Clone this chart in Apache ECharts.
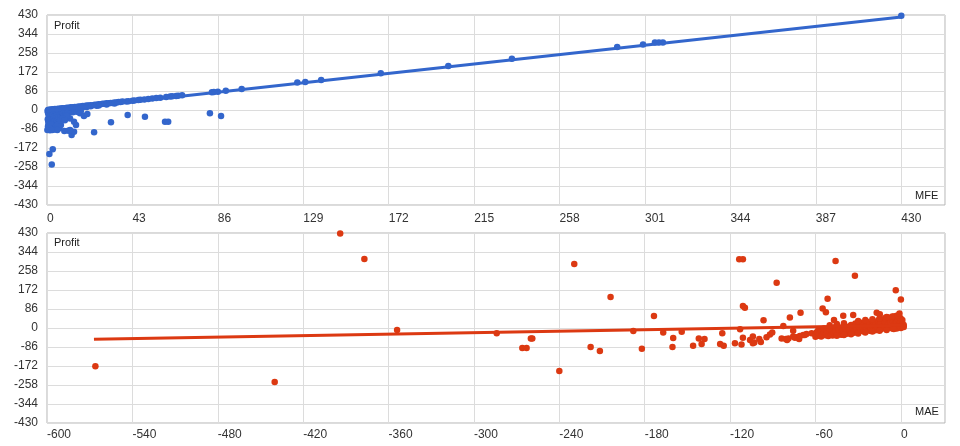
<!DOCTYPE html>
<html>
<head>
<meta charset="utf-8">
<title>MFE / MAE vs Profit</title>
<script src="https://cdn.jsdelivr.net/npm/echarts@6/dist/echarts.min.js"></script>
<style>
  html, body { margin: 0; padding: 0; background: #fff; }
  #chart { width: 960px; height: 446px; }
</style>
</head>
<body>
<div id="chart"></div>
<script>
// top chart: [MFE, Profit]
var mfeScatter = [
  [0.5,0],[1,1],[1.5,0],[2,2],[2.5,1],[3,3],[3.5,2],[4,4],[4.5,3],[5,5],[5.5,4],[6,6],[6.5,5],[7,7],[7.5,6],
  [8,8],[9,8],[10,10],[11,10],[12,12],[13,12],[14,14],[15,14],[16,16],[17,16],[18,18],[19,18],[20,20],
  [21,20],[22,22],[23,22],[24,24],[25,24],[26,26],[27,26],[28,28],[29,28],[30,30],[31,30],[32,32],[33,32],
  [34,34],[35,34],[36,36],[37,36],[38,38],[40,39],[41,40],[43,42],[44,43],[46,45],[47,46],[49,48],[51,50],
  [53,52],[55,54],[57,56],[60,59],[62,61],[63,62],[65,63],[66,65],[68,67],[83,80],[84,82],[86,83],[90,87],
  [98,95],[126,124],[130,127],[138,136],[168,166],[202,199],[234,232],[287,285],[300,297],[306,305],
  [308,306],[310,306],[430,427],
  [3,-1],[5,2],[8,4],[10,6],[12,8],[15,10],[18,13],[20,14],[22,17],[25,19],[26,20],[30,25],[34,29],
  [0.3,-5],[0.5,-12],[0.8,-20],[1,-28],[1.2,-35],[0.4,-42],[0.6,-50],[1,-58],[0.7,-66],[1.3,-72],[0.9,-80],
  [1.5,-3],[2,-10],[2.2,-18],[1.8,-25],[2.5,-32],[2.1,-40],[2.6,-47],[1.9,-55],[2.4,-62],[2.8,-70],
  [3.2,-5],[3.5,-15],[3,-22],[3.8,-30],[3.3,-38],[4,-45],[3.6,-54],[4.2,-60],[3.1,-78],[4.5,-8],[5,-17],
  [4.8,-26],[5.3,-35],[5.6,-42],[5,-50],[5.8,-58],[6,-2],[6.4,-12],[6.8,-22],[7,-33],[7.5,-7],[8,-16],
  [8.5,-28],[9,-4],[9.5,-12],[10,-20],[10.5,-8],[11,-14],[12,-6],[12.5,-2],[13,-10],[14,-4],[15,-8],
  [16,-3],[17,-6],[2,-85],[4,-88],[1.5,-92],[6.2,-83],[7,-68],[8.7,-95],[10.7,-94],[12.4,-113],[13.6,-98],
  [11.6,-91],[13.6,-53],[14.6,-68],[11.6,-38],[9.9,-27],[16.6,-15],[18.6,-27],[20.3,-18],[23.7,-101],
  [32.2,-56],[40.6,-23],[49.3,-30],[59.4,-53],[61,-53],[82,-15],[87.6,-27],[1.2,-199],[2.9,-178],
  [2.4,-247],[1.5,-83],[0.2,-90],
  [0.5,-75],[1.8,-64],[3.4,-84],[4.6,-72],[5.5,-66],[6.6,-48],[7.8,-40],[9,-46],[2.7,-90],[5.2,-90]
];

// bottom chart: [MAE, Profit]
var maeScatter = [
  [-566,-173],[-440,-244],[-394,428],[-377,312],[-354,-9],
  [-284,-24],[-266,-90],[-263,-90],[-260,-48],[-259,-48],[-240,-195],[-229.5,290],[-218,-86],
  [-211.5,-104],[-204,140],[-188,-14],[-182,-94],[-173.5,54],[-167,-20],[-160,-45],[-160.5,-86],
  [-154,-17],[-146,-80],[-142,-48],[-140,-72],[-138,-50],[-127,-72],[-125.5,-24],[-124.5,-80],
  [-116.6,-69],[-113.6,311],[-111,311],[-113,-6],[-112,-75],[-111,-44],[-111,100],[-109.6,92],
  [-106,-54],[-104,-39],[-104,-69],[-103,-66],[-99.5,-50],[-98.4,-63],[-96.5,35],[-94.4,-42],[-92,-29],
  [-90.4,-20],[-87.3,205],[-83.8,-47],[-82.6,9],[-80.8,-50],[-79,-48],[-78,48],[-75.7,-12],[-74.5,-44],
  [-73.3,-42],[-71.5,-50],[-70.5,69],[-68.6,-32],[-66.3,-27],[-80,-54],[-75.7,-39],[-71,-36],
  [-67.5,-32],[-62.7,-24],[-59,-21],
  [-60,-40],[-60,-30],[-59,-18],[-58,-35],[-58,-8],[-57,-25],[-56,-38],[-56,-14],[-55,-30],[-54,-20],
  [-54,-2],[-53,-33],[-52,-12],[-52,-26],[-51,-36],[-50,-18],[-50,-5],[-49,-28],[-48,-10],[-48,-34],
  [-47,-22],[-46,4],[-46,-15],[-45,-30],[-44,-8],[-44,-25],[-43,-18],[-42,2],[-42,-30],[-41,-12],
  [-40,-22],[-40,10],[-39,-4],[-38,-26],[-38,-14],[-37,6],[-36,-20],[-36,-8],[-35,14],[-35,-24],[-34,0],
  [-33,-14],[-33,-22],[-32,8],[-32,20],[-31,-6],[-30,-18],[-30,12],[-29,2],[-28,-12],[-28,24],[-27,-4],
  [-26,16],[-26,-16],[-25,6],[-24,-8],[-24,28],[-23,10],[-22,-12],[-22,18],[-21,0],[-20,30],[-20,-6],
  [-19,12],[-18,22],[-18,-10],[-17,4],[-16,34],[-16,-4],[-15,16],[-14,26],[-14,-6],[-13,8],[-12,38],
  [-12,0],[-11,20],[-10,-4],[-10,30],[-9,12],[-8,42],[-8,2],[-7,24],[-6,-2],[-6,34],[-5,14],[-4,46],
  [-4,4],[-3,26],[-3,-2],[-2,38],[-2,10],[-1,50],[-1,18],[0,0],[0,28],[0,42],[1,8],[1,22],[1,36],
  [2,14],[2,4],[-3,55],[-5,52],[-9,48],[-11,45],
  [-45,-35],[-40,-32],[-35,-28],[-30,-25],[-25,-20],[-20,-16],[-15,-12],[-10,-9],[-5,-5],
  [-50,12],[-45,18],[-40,22],[-30,32],[-25,36],[-20,40],[-15,44],[-10,50],[-6,52],[-2,56],
  [-51.5,132],[-55,88],[-52.7,71],[-45.9,303],[-32.3,237],[-3.6,171],[0,129],[-47,36],[-40.5,56],
  [-33.5,59],[-17,69],[-14.8,62],[-1,66]
];

// trend lines
var mfeTrend = [[0, -5], [430, 421]];
var maeTrend = [[-567, -51], [2, 12]];

var fontFam = '"Liberation Sans", Arial, sans-serif';
var blue = '#3366cc';
var red = '#dc3912';

var chartDom = document.getElementById('chart');
var myChart = echarts.init(chartDom);
var option;

function xAxisFor(idx, min, max, step, margin) {
  return {
    gridIndex: idx,
    type: 'value',
    min: min,
    max: max,
    interval: step,
    axisLine: { show: false },
    axisTick: { show: false },
    splitLine: { show: true, lineStyle: { color: '#dcdcdc', width: 1 } },
    axisLabel: {
      align: 'left',
      margin: margin,
      showMaxLabel: false,
      color: '#333',
      fontSize: 12,
      fontFamily: fontFam
    }
  };
}

function yAxisFor(idx) {
  return {
    gridIndex: idx,
    type: 'value',
    min: -430,
    max: 430,
    interval: 86,
    axisLine: { show: false },
    axisTick: { show: false },
    splitLine: { show: true, lineStyle: { color: '#dcdcdc', width: 1 } },
    axisLabel: {
      margin: 9,
      color: '#333',
      fontSize: 12,
      fontFamily: fontFam
    }
  };
}

option = {
  animation: false,
  backgroundColor: '#fff',
  grid: [
    { left: 47, top: 15, right: 15, height: 190, show: true, borderColor: '#b4b4b4', borderWidth: 1 },
    { left: 47, top: 233, right: 15, height: 190, show: true, borderColor: '#b4b4b4', borderWidth: 1 }
  ],
  xAxis: [
    xAxisFor(0, 0, 452, 43, 8),
    xAxisFor(1, -600, 31, 60, 6)
  ],
  yAxis: [yAxisFor(0), yAxisFor(1)],
  graphic: [
    { type: 'text', left: 54, top: 20, style: { text: 'Profit', fill: '#222', font: '11px ' + fontFam } },
    { type: 'text', left: 54, top: 237, style: { text: 'Profit', fill: '#222', font: '11px ' + fontFam } },
    { type: 'text', left: 915, top: 190, style: { text: 'MFE', fill: '#222', font: '11px ' + fontFam } },
    { type: 'text', left: 915, top: 406, style: { text: 'MAE', fill: '#222', font: '11px ' + fontFam } }
  ],
  series: [
    {
      type: 'scatter',
      xAxisIndex: 0,
      yAxisIndex: 0,
      data: mfeScatter,
      symbolSize: 6.5,
      itemStyle: { color: blue, opacity: 1 }
    },
    {
      type: 'line',
      xAxisIndex: 0,
      yAxisIndex: 0,
      data: mfeTrend,
      showSymbol: false,
      lineStyle: { color: blue, width: 3 },
      z: 3
    },
    {
      type: 'scatter',
      xAxisIndex: 1,
      yAxisIndex: 1,
      data: maeScatter,
      symbolSize: 6.5,
      itemStyle: { color: red, opacity: 1 }
    },
    {
      type: 'line',
      xAxisIndex: 1,
      yAxisIndex: 1,
      data: maeTrend,
      showSymbol: false,
      lineStyle: { color: red, width: 3 },
      z: 3
    }
  ]
};

option && myChart.setOption(option);
</script>
</body>
</html>
